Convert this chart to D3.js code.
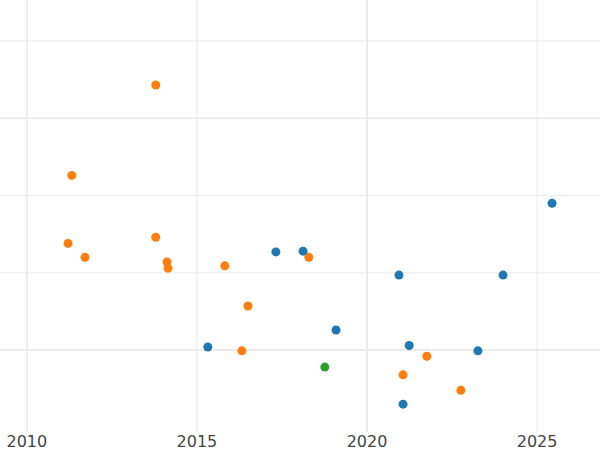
<!DOCTYPE html>
<html><head><meta charset="utf-8">
<script src="https://cdn.jsdelivr.net/npm/d3@7"></script>
<style>body{margin:0;background:#fff}</style>
</head><body>
<svg id="chart" width="600" height="450"></svg>
<script>
// values
var orangeX = [2013.79, 2011.32, 2011.21, 2011.71, 2013.79, 2014.12, 2014.15, 2015.82, 2016.5, 2018.29, 2016.32, 2021.06, 2021.76, 2022.76];
var orangeY = [3.43, 2.26, 1.38, 1.2, 1.46, 1.14, 1.06, 1.09, 0.57, 1.2, -0.01, -0.32, -0.08, -0.52];
var blueX = [2017.32, 2018.12, 2015.32, 2019.09, 2020.94, 2021.24, 2021.06, 2023.26, 2024.0, 2025.44];
var blueY = [1.27, 1.28, 0.04, 0.26, 0.97, 0.06, -0.7, -0.01, 0.97, 1.9];
var greenX = [2018.76];
var greenY = [-0.22];
var xTicks = [2010, 2015, 2020, 2025];
var yGrid = [0, 1, 2, 3, 4];

var svg = d3.select("#chart");
var x = d3.scaleLinear().domain([2009.21, 2026.85]).range([0, 600]);
var y = d3.scaleLinear().domain([-1.06, 4.53]).range([432, 0]);

// grid
svg.selectAll(".hg").data(yGrid).enter().append("line")
  .attr("x1", 0).attr("x2", 600)
  .attr("y1", function (d) { return y(d); }).attr("y2", function (d) { return y(d); })
  .attr("stroke", "#ebebeb")
  .attr("stroke-width", function (d) { return d % 3 === 0 ? 2 : 1; });
svg.selectAll(".vg").data(xTicks).enter().append("line")
  .attr("y1", 0).attr("y2", 432)
  .attr("x1", function (d) { return x(d); }).attr("x2", function (d) { return x(d); })
  .attr("stroke", "#ebebeb")
  .attr("stroke-width", function (d) { return d % 10 === 0 ? 2 : 1; });

// x labels
svg.selectAll(".xl").data(xTicks).enter().append("text")
  .attr("x", function (d) { return x(d); }).attr("y", 447)
  .attr("text-anchor", "middle")
  .attr("font-family", "DejaVu Sans, sans-serif")
  .attr("font-size", 16).attr("fill", "#444")
  .text(function (d) { return d; });

function dots(xs, ys, color) {
  svg.append("g").selectAll("circle").data(xs).enter().append("circle")
    .attr("cx", function (d) { return x(d); })
    .attr("cy", function (d, i) { return y(ys[i]); })
    .attr("r", 4.5).attr("fill", color);
}
dots(orangeX, orangeY, "#ff7f0e");
dots(blueX, blueY, "#1f77b4");
dots(greenX, greenY, "#2ca02c");
</script>
</body></html>
